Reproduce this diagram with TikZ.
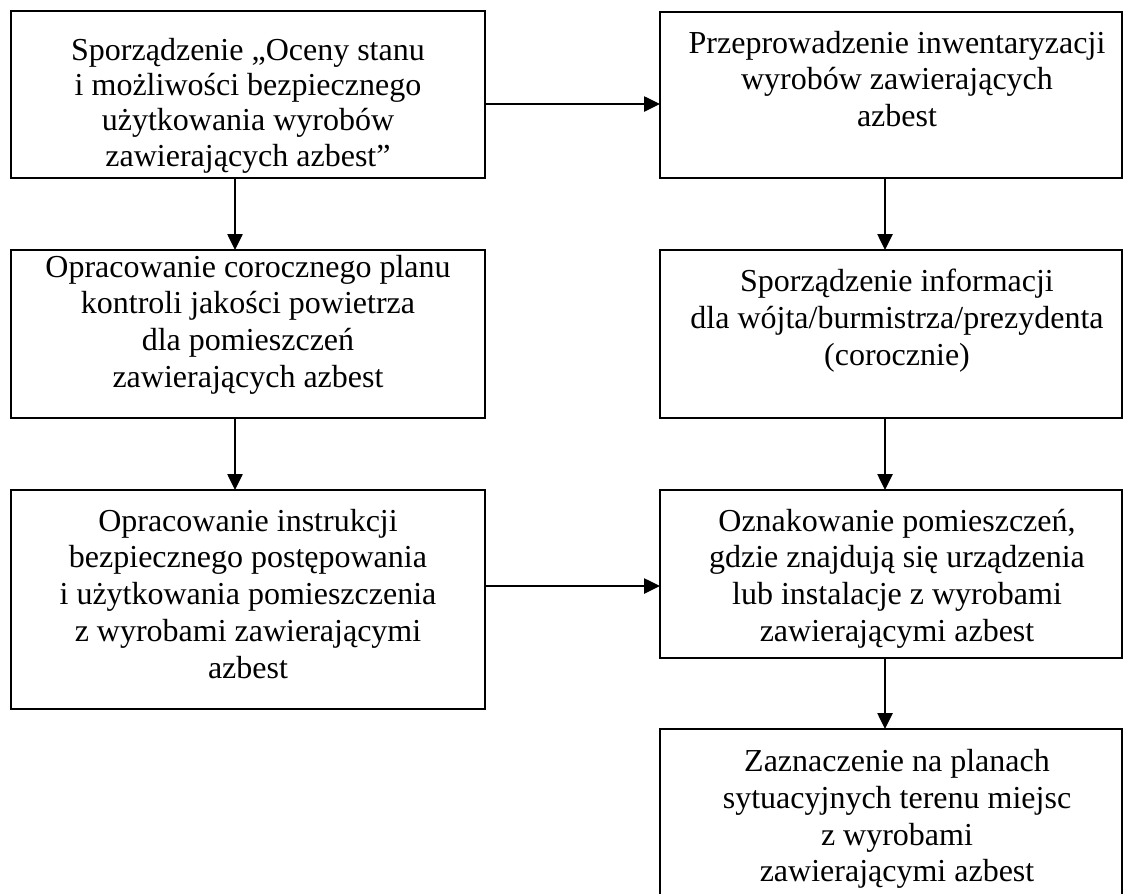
\documentclass[tikz,border=0pt]{standalone}
\usepackage{fontspec}
\setmainfont{Liberation Serif}
\usetikzlibrary{arrows.meta,positioning}
\tikzset{
	frame/.style={
		rectangle, draw, line width=1.5pt, anchor=north west,
		minimum height=126pt, inner sep=0pt, outer sep=0pt,
	},
	leftbox/.style={frame, minimum width=355.5pt},
	rightbox/.style={frame, minimum width=346.5pt},
	note/.style={align=center, inner sep=0pt, font=\fontsize{24}{27.6}\selectfont},
	rnote/.style={note, xshift=4.5pt},
	line/.style={draw, line width=1.1pt, -{Triangle[length=12pt,width=11.5pt]}},
}

\begin{document}
\begin{tikzpicture}[x=0.75pt, y=-0.75pt]
	\useasboundingbox (0,0) rectangle (1123,893);
	% columns and rows of the connectors
	\coordinate (lcol) at (235,0);
	\coordinate (rcol) at (885,0);
	\coordinate (row1) at (0,104);
	\coordinate (row2) at (0,586);
	% left column
	\node [leftbox, minimum height=125.25pt] (ocena) at (11,11) {};
	\node [leftbox] (plan) at (11,250) {};
	\node [leftbox, minimum height=164pt] (instr) at (11,490) {};
	% right column
	\node [rightbox, minimum height=124.5pt] (inwent) at (660,12) {};
	\node [rightbox] (info) at (660,250) {};
	\node [rightbox] (oznak) at (660,490) {};
	\node [rightbox, minimum height=129pt] (zazn) at (660,729) {};
	% texts
	\node [note, below=20pt of ocena.north, font=\fontsize{24}{26.5}\selectfont] (ocena-t) {Sporządzenie „Oceny stanu\\ i możliwości bezpiecznego\\ użytkowania wyrobów\\ zawierających azbest”};
	\node [note, below=3.5pt of plan.north] (plan-t) {Opracowanie corocznego planu\\ kontroli jakości powietrza\\ dla pomieszczeń\\ zawierających azbest};
	\node [note, below=14pt of instr.north] (instr-t) {Opracowanie instrukcji\\ bezpiecznego postępowania\\ i użytkowania pomieszczenia\\ z wyrobami zawierającymi\\ azbest};
	\node [rnote, below=14pt of inwent.north] (inwent-t) {Przeprowadzenie inwentaryzacji\\ wyrobów zawierających\\ azbest};
	\node [rnote, below=14pt of info.north] (info-t) {Sporządzenie informacji\\ dla wójta/burmistrza/prezydenta\\ (corocznie)};
	\node [rnote, below=14pt of oznak.north] (oznak-t) {Oznakowanie pomieszczeń,\\ gdzie znajdują się urządzenia\\ lub instalacje z wyrobami\\ zawierającymi azbest};
	\node [rnote, below=15pt of zazn.north] (zazn-t) {Zaznaczenie na planach\\ sytuacyjnych terenu miejsc\\ z wyrobami\\ zawierającymi azbest};
	% connectors
	\draw [line] (ocena.east |- row1) -- (inwent.west |- row1);
	\draw [line] (ocena.south -| lcol) -- (plan.north -| lcol);
	\draw [line] (plan.south -| lcol) -- (instr.north -| lcol);
	\draw [line] (inwent.south -| rcol) -- (info.north -| rcol);
	\draw [line] (info.south -| rcol) -- (oznak.north -| rcol);
	\draw [line] (instr.east |- row2) -- (oznak.west |- row2);
	\draw [line] (oznak.south -| rcol) -- (zazn.north -| rcol);
\end{tikzpicture}
\end{document}
